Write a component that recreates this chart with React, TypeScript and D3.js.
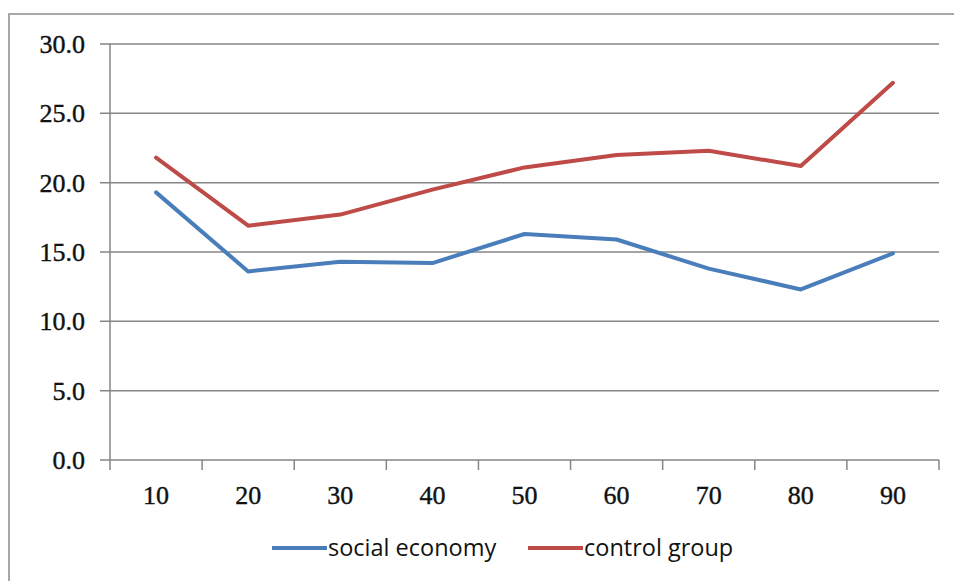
import React from "react";
import * as d3 from "d3";

const categories = ["10", "20", "30", "40", "50", "60", "70", "80", "90"];
const socialEconomy = [19.3, 13.6, 14.3, 14.2, 16.3, 15.9, 13.8, 12.3, 14.9];
const controlGroup = [21.8, 16.9, 17.7, 19.5, 21.1, 22.0, 22.3, 21.2, 27.2];
const yTicks = [0, 5, 10, 15, 20, 25, 30];
const seriesNames = ["social economy", "control group"];
const seriesColors = ["#4a7ebb", "#be4b48"];

const W = 954, H = 581;
const left = 110, right = 939, top = 44, bottom = 460;

export default function App() {
  const x = d3.scaleBand<string>().domain(categories).range([left, right]).padding(0);
  const y = d3.scaleLinear().domain([0, 30]).range([bottom, top]);
  const line = d3.line<number>()
    .x((_, i) => (x(categories[i]) as number) + x.bandwidth() / 2)
    .y((d) => y(d));
  const series = [socialEconomy, controlGroup];
  const axisFont = "'Liberation Serif', serif";
  const legendFont = "'Open Sans', 'Liberation Sans', sans-serif";
  const gridColor = "#868686";
  const boundaries = categories.map((c) => x(c) as number).concat([right]);
  return (
    <svg width={W} height={H} style={{ position: "absolute", left: 0, top: 0, background: "#fff" }}>
      <rect x={9} y={14} width={W + 10} height={H + 10} fill="#fff" stroke="#8c8c8c" strokeWidth={1.5} />
      {yTicks.map((t) => (
        <g key={t}>
          <line x1={100} x2={right} y1={y(t)} y2={y(t)} stroke={gridColor} strokeWidth={1.5} />
          <text x={85} y={y(t)} dy="0.35em" textAnchor="end" fontFamily={axisFont} fontSize={26}
            fill="#111" stroke="#111" strokeWidth={0.4}>
            {t.toFixed(1)}
          </text>
        </g>
      ))}
      <line x1={left} x2={left} y1={top} y2={bottom} stroke={gridColor} strokeWidth={1.5} />
      {boundaries.map((b, i) => (
        <line key={i} x1={b} x2={b} y1={bottom} y2={bottom + 10} stroke={gridColor} strokeWidth={1.5} />
      ))}
      {categories.map((c) => (
        <text key={c} x={(x(c) as number) + x.bandwidth() / 2} y={495} dy="0.35em" textAnchor="middle"
          fontFamily={axisFont} fontSize={26} fill="#111" stroke="#111" strokeWidth={0.4}>{c}</text>
      ))}
      {series.map((s, i) => (
        <path key={i} d={line(s) as string} fill="none" stroke={seriesColors[i]} strokeWidth={4}
          strokeLinejoin="round" strokeLinecap="round" />
      ))}
      {seriesNames.map((n, i) => {
        const lx = i === 0 ? 272 : 528;
        return (
          <g key={n}>
            <line x1={lx} x2={lx + 55} y1={548} y2={548} stroke={seriesColors[i]} strokeWidth={4} />
            <text x={lx + 56} y={548} dy="0.35em" fontFamily={legendFont} fontSize={23.5} fill="#111">{n}</text>
          </g>
        );
      })}
    </svg>
  );
}
